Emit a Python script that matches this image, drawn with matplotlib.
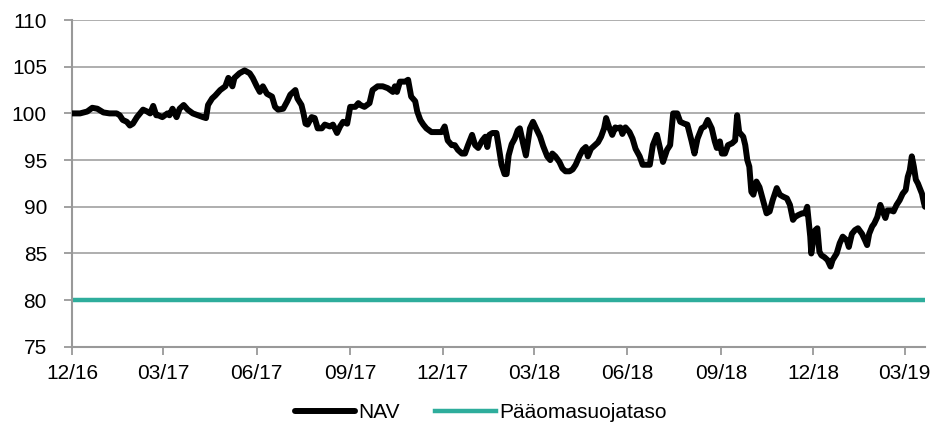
import numpy as np
import pandas as pd
import matplotlib
matplotlib.use("Agg")
import matplotlib.pyplot as plt
import matplotlib.dates as mdates

plt.rcParams['font.family'] = ['Liberation Sans', 'DejaVu Sans']

# NAV observations: days since start date, value
start = pd.Timestamp('2016-12-01')
end_day = 840
days = [0, 8, 15, 20, 25, 31, 37, 44, 47, 50, 54, 57, 60, 64, 67, 70, 74, 77, 80, 83,
        85, 89, 94, 96, 99, 103, 106, 110, 114, 119, 124, 129, 132, 134, 138, 141, 146, 151, 154, 158,
        160, 165, 170, 175, 178, 182, 185, 188, 192, 197, 200, 203, 208, 212, 215, 220, 222, 226, 228, 230,
        232, 236, 239, 242, 246, 249, 254, 257, 261, 264, 267, 271, 274, 279, 282, 284, 288, 293, 296, 301,
        306, 311, 316, 318, 320, 323, 328, 331, 334, 338, 340, 343, 346, 349, 354, 359, 364, 367, 370, 374,
        377, 380, 384, 387, 390, 394, 397, 400, 404, 407, 409, 411, 414, 418, 420, 423, 426, 428, 430, 433,
        436, 439, 441, 444, 447, 451, 454, 457, 461, 464, 468, 471, 473, 476, 480, 483, 486, 490, 493, 496,
        500, 503, 506, 508, 511, 515, 518, 521, 524, 526, 529, 532, 535, 537, 540, 542, 545, 549, 552, 555,
        559, 562, 566, 569, 572, 576, 579, 582, 586, 589, 592, 596, 599, 603, 606, 610, 613, 616, 620, 623,
        626, 630, 633, 635, 638, 640, 643, 646, 650, 653, 655, 657, 661, 663, 665, 667, 669, 671, 674, 677,
        680, 684, 687, 690, 694, 697, 700, 704, 707, 710, 712, 715, 719, 722, 724, 725, 727, 728, 730, 732,
        734, 736, 738, 741, 744, 747, 749, 753, 756, 759, 763, 765, 768, 771, 774, 778, 781, 783, 785, 788,
        790, 793, 796, 798, 801, 803, 807, 809, 812, 815, 818, 821, 823, 825, 827, 829, 831, 833, 837, 839,
        840]
nav = [100.0, 100.0, 100.2, 100.6, 100.5, 100.1, 100.0, 100.0, 99.8, 99.3, 99.1, 98.7, 98.9, 99.6, 100.0, 100.4, 100.2, 100.0, 100.8, 99.8,
       99.8, 99.6, 100.0, 99.8, 100.5, 99.6, 100.5, 100.9, 100.4, 100.0, 99.8, 99.6, 99.5, 100.9, 101.6, 101.9, 102.5, 102.9, 103.8, 102.9,
       103.8, 104.3, 104.6, 104.3, 103.8, 102.9, 102.3, 102.9, 102.1, 101.8, 100.7, 100.4, 100.5, 101.3, 102.0, 102.5, 101.6, 100.9, 100.0, 98.9,
       98.8, 99.6, 99.5, 98.4, 98.4, 98.8, 98.6, 98.8, 97.9, 98.6, 99.1, 98.9, 100.7, 100.7, 101.1, 100.9, 100.7, 101.1, 102.5, 102.9,
       102.9, 102.7, 102.3, 102.9, 102.3, 103.4, 103.4, 103.6, 101.8, 101.3, 100.2, 99.3, 98.8, 98.4, 98.0, 98.0, 98.0, 98.6, 97.1, 96.6,
       96.6, 96.1, 95.7, 95.7, 96.6, 97.7, 96.6, 96.3, 97.1, 97.5, 96.4, 97.7, 97.9, 97.9, 96.6, 94.5, 93.5, 93.5, 95.5, 96.7,
       97.3, 98.2, 98.4, 96.9, 95.5, 98.4, 99.1, 98.4, 97.5, 96.5, 95.4, 95.0, 95.7, 95.4, 94.8, 94.1, 93.8, 93.8, 94.0, 94.5,
       95.5, 96.1, 96.4, 95.4, 96.2, 96.6, 96.9, 97.5, 98.4, 99.5, 98.5, 97.7, 98.5, 98.4, 98.5, 97.8, 98.5, 98.0, 97.3, 96.2,
       95.4, 94.5, 94.5, 94.5, 96.6, 97.7, 96.3, 94.8, 96.1, 96.6, 100.0, 100.0, 99.1, 98.9, 98.8, 97.1, 95.7, 97.3, 98.4, 98.6,
       99.3, 98.4, 97.0, 96.3, 97.0, 95.7, 95.7, 96.6, 96.8, 97.1, 99.8, 98.0, 97.5, 96.6, 95.0, 94.3, 91.6, 91.3, 92.7, 92.1,
       90.9, 89.3, 89.5, 90.7, 92.0, 91.3, 91.1, 90.9, 90.2, 88.6, 88.9, 89.1, 89.3, 89.3, 90.0, 88.9, 86.8, 85.0, 86.4, 87.5,
       87.7, 85.2, 84.8, 84.6, 84.3, 83.6, 84.3, 85.0, 86.1, 86.8, 86.4, 85.7, 87.1, 87.5, 87.7, 87.1, 86.4, 85.9, 87.1, 87.9,
       88.2, 88.9, 90.2, 89.6, 88.8, 89.6, 89.6, 89.5, 90.2, 90.7, 91.4, 91.8, 93.2, 93.9, 95.4, 94.3, 92.9, 92.5, 91.4, 90.4,
       90.0]
floor_level = 80
labels = ['NAV', 'Pääomasuojataso']

dates = start + pd.to_timedelta(days, unit='D')
end = start + pd.Timedelta(days=end_day)

fig = plt.figure(figsize=(9.37, 4.23), dpi=100)
ax = fig.add_axes([0.0768, 0.18, 0.9104, 0.7727])

ax.plot(dates, nav, color='black', lw=4.3, solid_joinstyle='round', solid_capstyle='round',
        label=labels[0], zorder=3)
ax.plot([start, end], [floor_level, floor_level], color='#2EAD9C', lw=3.2, label=labels[1], zorder=2)

ax.set_xlim(start, end)
ax.set_ylim(75, 110)
ax.set_yticks(np.arange(75, 111, 5))
ax.xaxis.set_major_locator(mdates.MonthLocator(bymonth=[3, 6, 9, 12], bymonthday=1))
ax.xaxis.set_major_formatter(mdates.DateFormatter('%m/%y'))

ax.grid(axis='y', color='#999999', lw=1.1)
ax.set_axisbelow(True)
for s in ['top', 'right']:
    ax.spines[s].set_visible(False)
for s in ['left', 'bottom']:
    ax.spines[s].set_color('#999999')
    ax.spines[s].set_linewidth(1.5)
ax.tick_params(axis='both', colors='#999999', labelcolor='black', labelsize=15, length=6, width=1.3)
ax.tick_params(axis='y', pad=12)
ax.tick_params(axis='x', pad=6)

fig.legend(loc='center', bbox_to_anchor=(0.513, 0.025), ncol=2, frameon=False,
           fontsize=15, handlelength=2.9, handletextpad=0.15, columnspacing=1.7)

fig.savefig('out.png', dpi=100)
